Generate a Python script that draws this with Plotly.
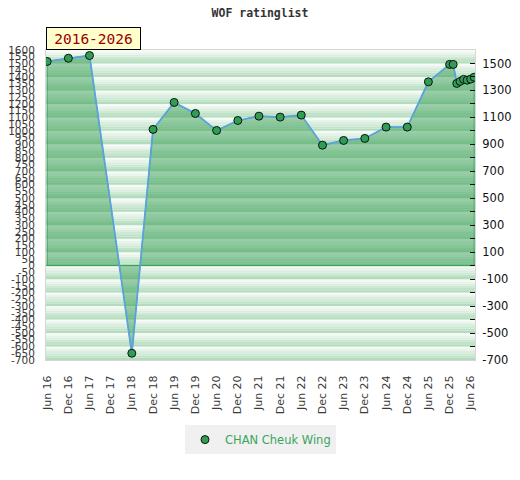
import plotly.graph_objects as go

# ------------------------------------------------------------
# DATA
# ------------------------------------------------------------

TITLE = "WOF ratinglist"
PERIOD = "2016-2026"
PLAYER = "CHAN Cheuk Wing"

DATES = [
    "2016-06-01", "2016-12-01", "2017-06-01", "2018-06-01", "2018-12-01",
    "2019-06-01", "2019-12-01", "2020-06-01", "2020-12-01", "2021-06-01",
    "2021-12-01", "2022-06-01", "2022-12-01", "2023-06-01", "2023-12-01",
    "2024-06-01", "2024-12-01", "2025-06-01", "2025-12-01", "2026-01-01",
    "2026-02-01", "2026-03-01", "2026-04-01", "2026-05-01", "2026-06-01",
    "2026-07-01",
]
RATINGS = [
    1515, 1539, 1559, -650, 1011,
    1211, 1129, 1003, 1077, 1109,
    1102, 1117, 894, 929, 944,
    1028, 1028, 1364, 1493, 1493,
    1352, 1367, 1382, 1376, 1384,
    1398,
]

TICK_DATES = [
    "2016-06-01", "2016-12-01", "2017-06-01", "2017-12-01", "2018-06-01",
    "2018-12-01", "2019-06-01", "2019-12-01", "2020-06-01", "2020-12-01",
    "2021-06-01", "2021-12-01", "2022-06-01", "2022-12-01", "2023-06-01",
    "2023-12-01", "2024-06-01", "2024-12-01", "2025-06-01", "2025-12-01",
    "2026-06-01",
]
TICK_LABELS = [
    "Jun 16", "Dec 16", "Jun 17", "Dec 17", "Jun 18",
    "Dec 18", "Jun 19", "Dec 19", "Jun 20", "Dec 20",
    "Jun 21", "Dec 21", "Jun 22", "Dec 22", "Jun 23",
    "Dec 23", "Jun 24", "Dec 24", "Jun 25", "Dec 25",
    "Jun 26",
]

Y_MIN, Y_MAX = -700, 1600
LEFT_TICKS = list(range(Y_MIN, Y_MAX + 1, 50))
RIGHT_TICKS = list(range(Y_MIN, 1501, 200))
X_RANGE = ["2016-05-22", "2026-07-08"]

# ------------------------------------------------------------
# STYLE
# ------------------------------------------------------------

FONT = "DejaVu Sans"
LINE_BLUE = "#5ba3dc"
MARKER_GREEN = "#2f9e55"
EDGE_GREEN = "#3aa55c"
FILL_GREEN = "rgba(40,150,70,0.45)"
TEXT_GRAY = "#3a3a3a"

# the page body adds an 8px margin, so the figure is a bit smaller than the window
FIG_W, FIG_H = 504, 464


def band_shapes():
    # striped background, one gradient band per 100 points
    shapes = []
    steps = 6
    dark = (178, 220, 188)
    light = (245, 250, 246)
    for lo in range(Y_MIN, Y_MAX, 100):
        for k in range(steps):
            t = k / (steps - 1)
            c = tuple(round(dark[i] + (light[i] - dark[i]) * t) for i in range(3))
            shapes.append(dict(
                type="rect", xref="paper", yref="y",
                x0=0, x1=1,
                y0=lo + 100 * k / steps, y1=lo + 100 * (k + 1) / steps,
                fillcolor=f"rgb{c}", line=dict(width=0), layer="below",
            ))
    return shapes


fig = go.Figure()

# filled area down to zero, with its green outline
fig.add_trace(go.Scatter(
    x=[DATES[0]] + DATES + [DATES[-1], DATES[0]],
    y=[0] + RATINGS + [0, 0],
    mode="lines",
    fill="toself",
    fillcolor=FILL_GREEN,
    line=dict(color=EDGE_GREEN, width=1),
    showlegend=False,
    hoverinfo="skip",
))

fig.add_trace(go.Scatter(
    x=DATES, y=RATINGS,
    mode="lines",
    line=dict(color=LINE_BLUE, width=1.8),
    showlegend=False,
))

fig.add_trace(go.Scatter(
    x=DATES, y=RATINGS,
    mode="markers",
    marker=dict(color=MARKER_GREEN, size=8, line=dict(color="#111111", width=1)),
    name=PLAYER,
    yaxis="y2",
))

fig.update_layout(
    width=FIG_W,
    height=FIG_H,
    margin=dict(l=38, r=37, t=42, b=112),
    paper_bgcolor="white",
    plot_bgcolor="white",
    shapes=band_shapes(),
    title=dict(
        text=f"<b>{TITLE}</b>",
        x=0.5, xanchor="center", y=0.998, yanchor="top",
        font=dict(family="DejaVu Sans Mono", size=11.5, color="#333333"),
    ),
    annotations=[dict(
        text=PERIOD,
        xref="paper", yref="paper", x=0, y=1,
        xanchor="left", yanchor="bottom",
        showarrow=False,
        width=91, height=19, align="center", valign="middle",
        bgcolor="#ffffcc", bordercolor="#000000", borderwidth=1, borderpad=1,
        font=dict(family="DejaVu Sans Mono", size=14.5, color="#990000"),
    )],
    xaxis=dict(
        type="date",
        range=X_RANGE,
        tickvals=TICK_DATES,
        ticktext=TICK_LABELS,
        tickangle=-90,
        ticks="",
        ticklabelstandoff=10,
        showgrid=False,
        zeroline=False,
        automargin=False,
        showline=True, mirror=True, linecolor="#d6d6d6", linewidth=1,
        tickfont=dict(family=FONT, size=11, color=TEXT_GRAY),
    ),
    yaxis=dict(
        range=[Y_MIN, Y_MAX],
        tickvals=LEFT_TICKS,
        ticktext=[str(v) for v in LEFT_TICKS],
        ticks="",
        ticklabelstandoff=8,
        showgrid=False,
        zeroline=True, zerolinecolor=EDGE_GREEN, zerolinewidth=1,
        automargin=False,
        showline=True, linecolor="#d6d6d6", linewidth=1,
        tickfont=dict(family=FONT, size=10.5, color=TEXT_GRAY),
    ),
    yaxis2=dict(
        overlaying="y",
        side="right",
        range=[Y_MIN, Y_MAX],
        tickvals=RIGHT_TICKS,
        ticktext=[str(v) for v in RIGHT_TICKS],
        ticks="inside", ticklen=5, tickcolor="#111111",
        minor=dict(ticks="inside", ticklen=5, tickcolor="#111111",
                   tick0=Y_MIN, dtick=100),
        ticklabelstandoff=4,
        showgrid=False,
        zeroline=False,
        automargin=False,
        showline=True, linecolor="#d6d6d6", linewidth=1,
        tickfont=dict(family=FONT, size=11.5, color="#111111"),
    ),
    legend=dict(
        orientation="h",
        x=0.5, xanchor="center",
        y=-0.21, yanchor="top",
        bgcolor="#f0f0f0",
        itemwidth=30,
        font=dict(family=FONT, size=11.5, color="#3aa55c"),
    ),
)

fig.write_html("out.html")
